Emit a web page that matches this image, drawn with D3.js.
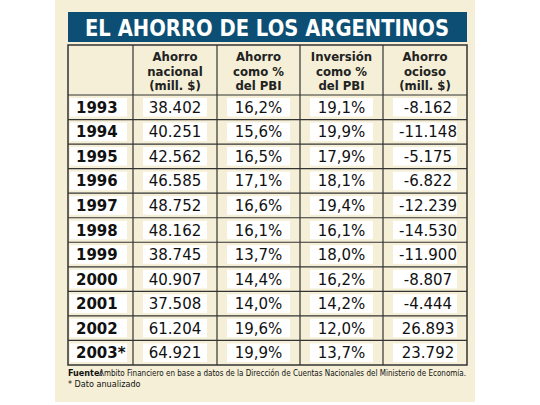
<!DOCTYPE html><html><head><meta charset="utf-8"><script src="https://cdn.jsdelivr.net/npm/d3@7"></script>
<style>body{margin:0;background:#fff}</style></head><body><svg id="c" width="540" height="405"></svg><script>
const title="EL AHORRO DE LOS ARGENTINOS";
const headers=[["Ahorro","nacional","(mill. $)"],["Ahorro","como %","del PBI"],["Inversión","como %","del PBI"],["Ahorro","ocioso","(mill. $)"]];
const years=["1993","1994","1995","1996","1997","1998","1999","2000","2001","2002","2003*"];
const ahorro=["38.402","40.251","42.562","46.585","48.752","48.162","38.745","40.907","37.508","61.204","64.921"];
const ahorroPct=["16,2%","15,6%","16,5%","17,1%","16,6%","16,1%","13,7%","14,4%","14,0%","19,6%","19,9%"];
const invPct=["19,1%","19,9%","17,9%","18,1%","19,4%","16,1%","18,0%","16,2%","14,2%","12,0%","13,7%"];
const ocioso=["-8.162","-11.148","-5.175","-6.822","-12.239","-14.530","-11.900","-8.807","-4.444","26.893","23.792"];
const cols=[ahorro,ahorroPct,invPct,ocioso];
const svg=d3.select("#c");
svg.append("rect").attr("x",55).attr("y",0).attr("width",420).attr("height",402).attr("fill","#f4efd6");
svg.append("rect").attr("x",68).attr("y",12).attr("width",399).attr("height",30).attr("fill","#0d4f74");
svg.append("text").attr("x",267).attr("y",36).attr("text-anchor","middle").attr("fill","#fff").attr("font-family","DejaVu Sans").attr("font-weight","bold").attr("font-size",23).attr("textLength",364).attr("lengthAdjust","spacingAndGlyphs").text(title);
const xb=[68,133,217,300,383,467];
const y=d3.scaleBand().domain(years).range([95,365]);
const g=svg.append("g");
years.forEach((yr,i)=>{
  const y0=y(yr)+3,h=y.bandwidth()-6;
  g.append("rect").attr("x",70).attr("y",y0).attr("width",57).attr("height",h).attr("fill","#fff");
  for(let c=0;c<4;c++)g.append("rect").attr("x",xb[c+1]+10).attr("y",y0).attr("width",xb[c+2]-xb[c+1]-20).attr("height",h).attr("fill","#fff");
  g.append("text").attr("x",76).attr("y",y(yr)+y.bandwidth()/2+5.5).attr("font-family","DejaVu Sans").attr("font-weight","bold").attr("font-size",15).attr("fill","#111").text(yr);
  cols.forEach((arr,c)=>g.append("text").attr("x",(xb[c+1]+xb[c+2])/2+(c==3?3:0)).attr("y",y(yr)+y.bandwidth()/2+5.5).attr("text-anchor","middle").attr("font-family","DejaVu Sans").attr("font-size",15).attr("fill","#111").text(arr[i]));
});
headers.forEach((h,c)=>h.forEach((t,k)=>svg.append("text").attr("x",(xb[c+1]+xb[c+2])/2).attr("y",61+k*14.5).attr("text-anchor","middle").attr("font-family","DejaVu Sans Condensed, DejaVu Sans").attr("font-weight","bold").attr("font-size",13).attr("fill","#222").text(t)));
const st="#333";
svg.append("rect").attr("x",68).attr("y",45).attr("width",399).attr("height",320).attr("fill","none").attr("stroke",st).attr("stroke-width",1.5);
xb.slice(1,5).forEach(x=>svg.append("line").attr("x1",x).attr("x2",x).attr("y1",45).attr("y2",365).attr("stroke",st).attr("stroke-width",1.2));
years.forEach(yr=>svg.append("line").attr("x1",68).attr("x2",467).attr("y1",y(yr)).attr("y2",y(yr)).attr("stroke",st).attr("stroke-width",1.2));
const ff="Liberation Sans Narrow, DejaVu Sans Condensed";
svg.append("text").attr("x",68).attr("y",376).attr("font-family",ff).attr("font-size",9).attr("font-weight","bold").attr("fill","#111").text("Fuente:");
svg.append("text").attr("x",99).attr("y",376).attr("font-family",ff).attr("font-size",9).attr("fill","#111").attr("textLength",367).attr("lengthAdjust","spacingAndGlyphs").text("Ambito Financiero en base a datos de la Dirección de Cuentas Nacionales del Ministerio de Economía.");
svg.append("text").attr("x",68).attr("y",387).attr("font-family",ff).attr("font-size",9).attr("fill","#111").text("* Dato anualizado");
</script></body></html>
